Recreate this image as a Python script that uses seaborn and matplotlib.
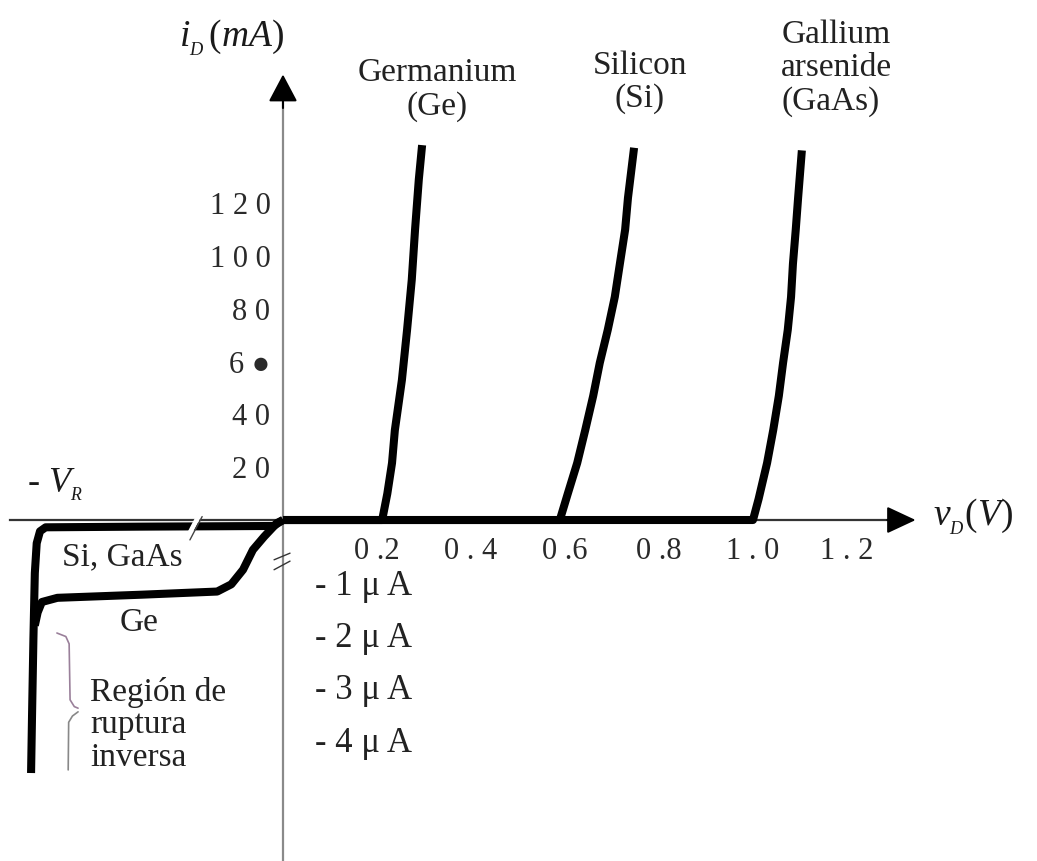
import numpy as np
import pandas as pd
import matplotlib
matplotlib.use("Agg")
import matplotlib.pyplot as plt
import seaborn as sns

# ---------------- data ----------------
# forward characteristics (v_D in V, i_D in mA)
ge_v = [0.0, 0.211, 0.222, 0.232, 0.238, 0.253, 0.264, 0.274, 0.281, 0.289, 0.296]
ge_i = [0.0, 0.0, 10.0, 21.6, 34.0, 53.0, 72.0, 91.0, 110.0, 129.0, 142.0]
si_v = [0.0, 0.589, 0.606, 0.626, 0.643, 0.660, 0.674, 0.691, 0.706, 0.717, 0.728, 0.734, 0.747]
si_i = [0.0, 0.0, 10.0, 21.6, 34.0, 47.0, 59.5, 72.0, 84.5, 97.3, 110.0, 122.0, 141.0]
gaas_v = [0.0, 1.0, 1.012, 1.030, 1.043, 1.055, 1.064, 1.074, 1.081, 1.085, 1.091, 1.096, 1.104]
gaas_i = [0.0, 0.0, 8.0, 21.6, 34.0, 47.0, 59.5, 72.0, 84.5, 97.0, 110.0, 122.0, 140.0]

# reverse characteristics (schematic -V_R position, i in uA)
rev_si_v = [0.0, -0.02, -0.30, -0.505, -0.517, -0.524, -0.528, -0.531, -0.534, -0.536]
rev_si_i = [0.0, -0.09, -0.10, -0.11, -0.17, -0.35, -0.80, -2.0, -3.5, -4.57]
rev_ge_v = [0.0, -0.0128, -0.040, -0.064, -0.085, -0.110, -0.140, -0.300, -0.480, -0.513, -0.522, -0.528]
rev_ge_i = [0.0, -0.045, -0.25, -0.45, -0.75, -0.97, -1.10, -1.16, -1.22, -1.30, -1.50, -1.75]

x_ticks = [0.1, 0.2, 0.3, 0.4, 0.5, 0.6, 0.7, 0.8, 0.9, 1.0, 1.1, 1.2]
x_labels = ["", "0 .2", "", "0 . 4", "", "0 .6", "", "0 .8", "", "1 . 0", "", "1 . 2"]
y_ticks = [20, 40, 60, 80, 100, 120]
y_labels = ["2 0", "4 0", "6 \u25CF", "8 0", "1 0 0", "1 2 0"]
neg_ticks = [-1, -2, -3, -4]
neg_labels = ["- 1 \u03bc A", "- 2 \u03bc A", "- 3 \u03bc A", "- 4 \u03bc A"]

# ---------------- style ----------------
sns.set_theme(style="white")
plt.rcParams["font.family"] = ["Liberation Serif", "DejaVu Serif"]
plt.rcParams["mathtext.fontset"] = "custom"
plt.rcParams["mathtext.rm"] = "Liberation Serif"
plt.rcParams["mathtext.it"] = "Liberation Serif:italic"

# y axis: mA above zero, uA below zero (broken scale)
def fwd(y):
    y = np.asarray(y, dtype=float)
    return np.where(y >= 0, y * 2.64, np.where(y > -1, y * 66.3, y * 52.3 - 14.0))

def inv(z):
    z = np.asarray(z, dtype=float)
    return np.where(z >= 0, z / 2.64, np.where(z > -66.3, z / 66.3, (z + 14.0) / 52.3))

fig = plt.figure(figsize=(10.37, 8.61), dpi=100)
ax = fig.add_axes([0, 0, 1, 1])
ax.set_yscale("function", functions=(fwd, inv))
ax.set_xlim(-0.6021, 1.6043)
ax.set_ylim(-6.252, 196.97)
ax.patch.set_alpha(0)

frames = []
for name, v, i in [("Ge", ge_v, ge_i), ("Si", si_v, si_i), ("GaAs", gaas_v, gaas_i),
                   ("rSi", rev_si_v, rev_si_i), ("rGe", rev_ge_v, rev_ge_i)]:
    frames.append(pd.DataFrame({"v": v, "i": i, "curve": name}))
df = pd.concat(frames, ignore_index=True)

for name in ["rSi", "rGe", "Ge", "Si", "GaAs"]:
    d = df[df.curve == name]
    sns.lineplot(data=d, x="v", y="i", sort=False, estimator=None, color="black",
                 lw=5.8, ax=ax, legend=False, solid_capstyle="butt", solid_joinstyle="round")

# axes through origin
for s in ["top", "right"]:
    ax.spines[s].set_visible(False)
ax.spines["left"].set_position(("data", 0))
ax.spines["bottom"].set_position(("data", 0))
ax.spines["left"].set_bounds(-6.25, 158.0)
ax.spines["bottom"].set_bounds(-0.58, 1.30)
ax.spines["left"].set_color("#8a8a8a")
ax.spines["left"].set_linewidth(1.6)
ax.spines["bottom"].set_color("#333333")
ax.spines["bottom"].set_linewidth(1.6)
ax.spines["left"].set_zorder(1)
ax.spines["bottom"].set_zorder(1)

ax.set_xticks(x_ticks)
ax.set_xticklabels(x_labels)
ax.set_yticks(y_ticks + neg_ticks)
ax.set_yticklabels(y_labels + [""] * len(neg_ticks))
ax.tick_params(axis="x", direction="in", length=18, width=1.0, color="#666666",
               pad=12, labelsize=22, labelcolor="#2a2a2a")
ax.tick_params(axis="y", direction="in", length=14, width=1.6, color="#555555",
               pad=9, labelsize=22, labelcolor="#2a2a2a")
ax.set_xlabel("")
ax.set_ylabel("")
ax.grid(False)

for t, lab in zip(neg_ticks, neg_labels):
    ax.text(0.068, t, lab, ha="left", va="center", fontsize=25, color="#222222")

# arrow heads
ax.annotate("", xy=(1.352, 0), xytext=(1.28, 0),
            arrowprops=dict(arrowstyle="-|>,head_length=0.9,head_width=0.42",
                            mutation_scale=20, color="black", lw=1.5))
ax.annotate("", xy=(0, 169.8), xytext=(0, 155),
            arrowprops=dict(arrowstyle="-|>,head_length=0.85,head_width=0.45",
                            mutation_scale=20, color="black", lw=1.5))

# axis labels
ax.text(-0.1085, 182.6, r"$i_{_D}\,(mA)$", ha="center", va="center", fontsize=27, color="#1a1a1a")
ax.text(1.383, 1.1, r"$v_{_D}(V)$", ha="left", va="center", fontsize=27, color="#1a1a1a")
ax.text(-0.545, 13.3, r"- $V_{_R}$", ha="left", va="center", fontsize=26, color="#1a1a1a")

# curve names
ax.text(0.328, 163.0, "Germanium\n(Ge)", ha="center", va="center", fontsize=24,
        linespacing=1.1, color="#222222")
ax.text(0.7596, 165.7, "Silicon\n(Si)", ha="center", va="center", fontsize=24,
        linespacing=1.1, color="#222222")
ax.text(1.06, 171.2, "Gallium\narsenide\n(GaAs)", ha="left", va="center", fontsize=24,
        linespacing=1.12, multialignment="left", color="#222222")

# reverse region annotations
ax.text(-0.3426, -0.558, "Si, GaAs", ha="center", va="center", fontsize=24, color="#222222")
ax.text(-0.306, -1.70, "Ge", ha="center", va="center", fontsize=24, color="#222222")
ax.text(-0.4106, -3.65, "Región de\nruptura\ninversa", ha="left", va="center", fontsize=24,
        linespacing=1.07, color="#222222")

# brace
ax.plot([-0.481, -0.462, -0.455, -0.453, -0.444, -0.436],
        [-1.893, -1.96, -2.10, -3.17, -3.30, -3.33], color="#9a809a", lw=1.2)
ax.plot([-0.436, -0.448, -0.456, -0.457],
        [-3.40, -3.48, -3.60, -4.51], color="#888888", lw=1.2)

# break marks
ax.plot([-0.206, -0.180], [-0.30, 1.3], color="white", lw=3.5, zorder=5)
ax.plot([-0.198, -0.172], [-0.30, 1.3], color="#444444", lw=1.0, zorder=6)
ax.plot([-0.019, 0.015], [-0.60, -0.50], color="#333333", lw=1.0, zorder=6)
ax.plot([-0.019, 0.015], [-0.75, -0.62], color="#333333", lw=1.0, zorder=6)

fig.savefig("out.png", dpi=100, facecolor="white")
